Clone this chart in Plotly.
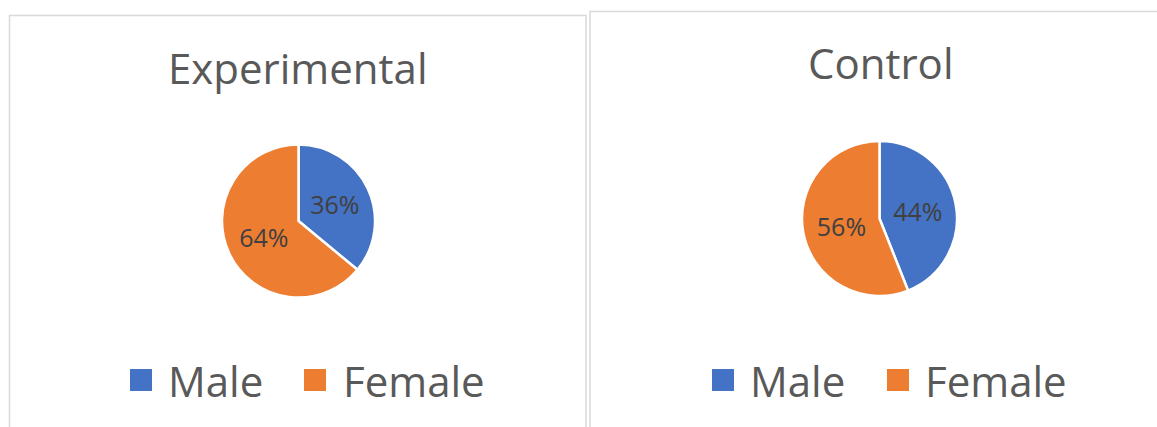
import plotly.graph_objects as go

W, H = 1157, 427

# Data
categories = ["Male", "Female"]
experimental_pct = [36, 64]
control_pct = [44, 56]
colors = ["#4472C4", "#ED7D31"]
titles = ["Experimental", "Control"]


def px_x(x):
    return x / W


def px_y(y):
    return 1 - y / H


FONT = "Open Sans"
TEXT_GREY = "#595959"

fig = go.Figure()

# pie geometry in pixels: (cx, cy, r)
pies = [
    (experimental_pct, (298.5, 221, 76.5)),
    (control_pct, (879.5, 218.5, 77.5)),
]

for values, (cx, cy, r) in pies:
    fig.add_trace(go.Pie(
        labels=categories,
        values=values,
        sort=False,
        direction="clockwise",
        rotation=0,
        marker=dict(colors=colors, line=dict(color="white", width=2.5)),
        texttemplate="%{value}%",
        textposition="inside",
        insidetextorientation="horizontal",
        textfont=dict(family=FONT, size=25, color="#404040"),
        domain=dict(x=[px_x(cx - r), px_x(cx + r)], y=[px_y(cy + r), px_y(cy - r)]),
        showlegend=False,
        hoverinfo="label+percent",
    ))

shapes = []
annotations = []

# panel frames
for x0, y0, x1 in [(9.5, 15.5, 586), (590, 11.5, 1170)]:
    shapes.append(dict(type="rect", xref="paper", yref="paper",
                       x0=px_x(x0), x1=px_x(x1), y0=px_y(440), y1=px_y(y0),
                       line=dict(color="#D9D9D9", width=1.5), fillcolor="rgba(0,0,0,0)"))

# panel titles
for title, (tx, ty) in zip(titles, [(298, 68), (880, 63)]):
    annotations.append(dict(text=title, x=px_x(tx), y=px_y(ty), xref="paper", yref="paper",
                            xanchor="center", yanchor="middle", showarrow=False,
                            font=dict(family=FONT, size=42, color=TEXT_GREY)))

# legends: (square left x, text left x) per category
legend_layout = [
    [(130, 166), (304, 341)],
    [(712, 748), (887, 923)],
]
ly = 380
sq = 22
for row in legend_layout:
    for (sx, tx), name, col in zip(row, categories, colors):
        shapes.append(dict(type="rect", xref="paper", yref="paper",
                           x0=px_x(sx), x1=px_x(sx + sq),
                           y0=px_y(ly + sq / 2), y1=px_y(ly - sq / 2),
                           line=dict(width=0), fillcolor=col))
        annotations.append(dict(text=name, x=px_x(tx), y=px_y(ly), xref="paper", yref="paper",
                                xanchor="left", yanchor="middle", showarrow=False,
                                font=dict(family=FONT, size=42, color=TEXT_GREY)))

fig.update_layout(
    width=W, height=H,
    margin=dict(l=0, r=0, t=0, b=0),
    paper_bgcolor="white",
    plot_bgcolor="white",
    shapes=shapes,
    annotations=annotations,
)

fig.write_html("out.html")
